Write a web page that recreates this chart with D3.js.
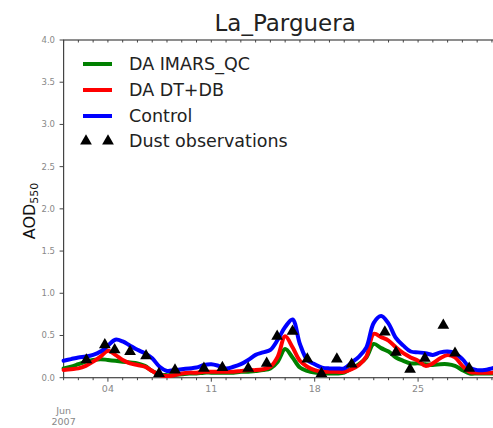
<!DOCTYPE html>
<html><head><meta charset="utf-8">
<script src="https://cdn.jsdelivr.net/npm/d3@7"></script>
<style>body{margin:0;background:#fff}svg{display:block;font-family:"DejaVu Sans",sans-serif}</style>
</head><body>
<svg id="c" width="493" height="428"></svg>
<script>
// ---- data ----
const title = "La_Parguera";
const seriesNames = ["DA IMARS_QC", "DA DT+DB", "Control"];
const seriesColors = ["#008000", "#ff0000", "#0000ff"];
// 12-hourly model output, starting 2007-06-01 00 UTC
const timeStart = "2007-06-01T00:00:00Z";
const timeEnd = "2007-07-01T00:00:00Z";
const greenVals = [0.11,0.13,0.16,0.19,0.21,0.22,0.21,0.20,0.19,0.18,0.17,0.14,0.08,0.04,0.03,0.03,0.04,0.05,0.05,0.06,0.06,0.06,0.06,0.06,0.07,0.07,0.08,0.09,0.11,0.19,0.34,0.24,0.12,0.08,0.06,0.05,0.05,0.05,0.06,0.11,0.16,0.24,0.40,0.35,0.31,0.24,0.20,0.17,0.17,0.16,0.15,0.16,0.16,0.14,0.09,0.05,0.05,0.05,0.05,0.06,0.07];
const redVals = [0.09,0.10,0.11,0.14,0.19,0.25,0.32,0.27,0.21,0.17,0.15,0.13,0.08,0.03,0.02,0.03,0.05,0.06,0.06,0.07,0.07,0.07,0.07,0.07,0.08,0.09,0.09,0.10,0.13,0.25,0.49,0.36,0.20,0.13,0.09,0.07,0.07,0.07,0.07,0.10,0.15,0.25,0.52,0.48,0.44,0.36,0.29,0.24,0.20,0.14,0.17,0.23,0.27,0.24,0.14,0.07,0.06,0.06,0.06,0.07,0.08];
const blueVals = [0.20,0.22,0.24,0.25,0.27,0.31,0.38,0.45,0.43,0.38,0.33,0.29,0.23,0.13,0.08,0.09,0.10,0.11,0.12,0.15,0.16,0.14,0.11,0.13,0.16,0.21,0.27,0.30,0.33,0.45,0.60,0.69,0.40,0.21,0.16,0.12,0.11,0.11,0.11,0.18,0.25,0.36,0.65,0.73,0.64,0.47,0.38,0.31,0.30,0.29,0.27,0.30,0.31,0.29,0.22,0.12,0.09,0.09,0.11,0.13,0.14];
const obsTimes = ["2007-06-02T13:00Z","2007-06-03T19:00Z","2007-06-04T11:00Z","2007-06-05T12:00Z","2007-06-06T14:00Z","2007-06-07T11:00Z","2007-06-08T13:00Z","2007-06-10T12:00Z","2007-06-11T18:00Z","2007-06-13T12:00Z","2007-06-14T18:00Z","2007-06-15T11:00Z","2007-06-16T12:00Z","2007-06-17T12:00Z","2007-06-18T11:00Z","2007-06-19T12:00Z","2007-06-20T12:00Z","2007-06-22T18:00Z","2007-06-23T12:00Z","2007-06-24T11:00Z","2007-06-25T11:00Z","2007-06-26T17:00Z","2007-06-27T12:00Z","2007-06-28T11:00Z"];
const obsVals = [0.21,0.39,0.33,0.31,0.26,0.05,0.09,0.11,0.12,0.11,0.17,0.49,0.55,0.22,0.05,0.22,0.16,0.54,0.30,0.10,0.23,0.62,0.29,0.11];
const yTicks = [0,0.5,1.0,1.5,2.0,2.5,3.0,3.5,4.0];
const xMajorDays = [4,11,18,25];
const obsLabel = "Dust observations";

// ---- layout ----
const svg = d3.select("#c");
svg.append("rect").attr("width",493).attr("height",428).attr("fill","#fff");
const t0 = new Date(timeStart), t1 = new Date(timeEnd);
const x = d3.scaleUtc().domain([t0,t1]).range([63.6,506.7]);
const y = d3.scaleLinear().domain([0,4]).range([377.7,40]);
const times = d3.utcHour.every(12).range(t0, d3.utcHour.offset(t1,1));

const series = [greenVals, redVals, blueVals];
const line = d3.line().x((d,i)=>x(times[i])).y(d=>y(d)).curve(d3.curveCatmullRom.alpha(0.5));

const g = svg.append("g");
const axCol = "#444";
g.append("rect").attr("x",x.range()[0]).attr("y",y(4)).attr("width",x.range()[1]-x.range()[0]).attr("height",y(0)-y(4))
  .attr("fill","none").attr("stroke",axCol).attr("stroke-width",1.2);

const tickCol = "#888";
yTicks.forEach(v=>{
  g.append("line").attr("x1",x.range()[0]-4).attr("x2",x.range()[0]).attr("y1",y(v)).attr("y2",y(v)).attr("stroke",axCol).attr("stroke-width",1);
  g.append("text").attr("x",55).attr("y",y(v)+3).attr("text-anchor","end").attr("font-size",8.5).attr("fill",tickCol).text(d3.format(".1f")(v));
});
const days = d3.utcDay.range(t0, d3.utcDay.offset(t1,1));
days.forEach(d=>{
  const isMaj = xMajorDays.includes(d.getUTCDate()) && d.getUTCMonth()===5;
  g.append("line").attr("x1",x(d)).attr("x2",x(d)).attr("y1",y(0)).attr("y2",y(0)+(isMaj?4:2.5)).attr("stroke",axCol).attr("stroke-width",1);
  g.append("line").attr("x1",x(d)).attr("x2",x(d)).attr("y1",y(4)).attr("y2",y(4)+2.5).attr("stroke",axCol).attr("stroke-width",1);
});
xMajorDays.forEach(dd=>{
  const d = d3.utcDay.offset(t0, dd-1);
  g.append("text").attr("x",x(d)).attr("y",392).attr("text-anchor","middle").attr("font-size",9.5).attr("fill",tickCol).text(d3.utcFormat("%d")(d));
});
g.append("text").attr("x",x(t0)).attr("y",414).attr("text-anchor","middle").attr("font-size",9.5).attr("fill",tickCol).text(d3.utcFormat("%b")(t0));
g.append("text").attr("x",x(t0)).attr("y",425).attr("text-anchor","middle").attr("font-size",9.5).attr("fill",tickCol).text(d3.utcFormat("%Y")(t0));

series.forEach((s,i)=>{
  g.append("path").attr("d",line(s)).attr("fill","none").attr("stroke",seriesColors[i]).attr("stroke-width",4)
   .attr("stroke-linejoin","round").attr("stroke-linecap","round");
});
const tri = d3.symbol().type(d3.symbolTriangle).size(60);
obsTimes.forEach((t,i)=>{
  g.append("path").attr("d",tri()).attr("transform",`translate(${x(new Date(t))},${y(obsVals[i])})`).attr("fill","#000");
});

svg.append("text").attr("x",(x.range()[0]+x.range()[1])/2).attr("y",31).attr("text-anchor","middle")
  .attr("font-size",23).attr("fill","#222").text(title);

const yl = svg.append("text").attr("transform","translate(35,211) rotate(-90)").attr("text-anchor","middle").attr("font-size",16).attr("fill","#111");
yl.append("tspan").text("AOD");
yl.append("tspan").attr("font-size",11).attr("dy",3).text("550");

const legY = [64,90,116,141];
series.forEach((s,i)=>{
  svg.append("line").attr("x1",83).attr("x2",112).attr("y1",legY[i]).attr("y2",legY[i]).attr("stroke",seriesColors[i]).attr("stroke-width",4);
  svg.append("text").attr("x",129).attr("y",legY[i]+6).attr("font-size",17.5).attr("fill","#222").text(seriesNames[i]);
});
[86,108].forEach(xx=>{
  svg.append("path").attr("d",tri()).attr("transform",`translate(${xx},${legY[3]})`).attr("fill","#000");
});
svg.append("text").attr("x",129).attr("y",legY[3]+6).attr("font-size",17.5).attr("fill","#222").text(obsLabel);
</script>
</body></html>
